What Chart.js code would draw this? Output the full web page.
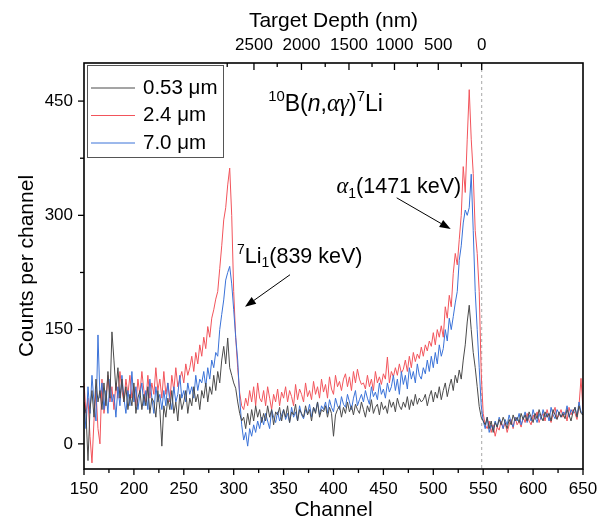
<!DOCTYPE html>
<html>
<head>
<meta charset="utf-8">
<title>10B(n,αγ)7Li spectrum</title>
<script src="https://cdn.jsdelivr.net/npm/chart.js@4.4.1/dist/chart.umd.min.js"></script>
<style>
  html, body { margin: 0; padding: 0; background: #fff; }
  canvas { display: block; }
</style>
</head>
<body>
<canvas id="chart" width="597" height="520"></canvas>
<script>
// spectra, one value every 2 channels from 150 to 650
const CHANNEL_START = 150;
const CHANNEL_STEP = 2;

const counts053 = [
  55, 40, -22, 45, 70, 35, 85, 55, 70, 45,
  80, 50, 95, 60, 147, 110, 70, 100, 60, 85,
  55, 75, 45, 65, 50, 80, 40, 60, 70, 45,
  65, 50, 75, 40, 60, 55, 35, 70, 45, -3,
  50, 35, 60, 45, 70, 40, 55, 30, 65, 45,
  55, 70, 40, 60, 50, 75, 55, 65, 45, 70,
  60, 80, 55, 75, 65, 90, 70, 95, 80, 110,
  128, 105, 139, 100, 90, 80, 73, 55, 40, 30,
  35, 20, 40, 25, 45, 30, 50, 35, 45, 28,
  40, 30, 50, 35, 45, 25, 42, 38, 48, 30,
  45, 35, 50, 28, 42, 38, 52, 30, 45, 40,
  35, 50, 38, 45, 30, 48, 40, 55, 35, 45,
  42, 50, 35, 48, 40, 10, 38, 45, 50, 35,
  48, 40, 55, 42, 50, 38, 52, 45, 40, 55,
  45, 35, 50, 42, 58, 40, 48, 52, 38, 55,
  45, 50, 40, 58, 48, 55, 42, 60, 50, 45,
  55, 48, 62, 45, 58, 50, 65, 52, 60, 55,
  58, 65, 50, 62, 70, 55, 68, 60, 75, 58,
  70, 80, 62, 75, 85, 70, 90, 80, 97, 85,
  110, 130, 160, 182, 150, 120, 100, 75, 49, 35,
  30, 25, 35, 20, 30, 15, 28, 22, 32, 25,
  35, 28, 20, 32, 25, 38, 30, 35, 28, 40,
  32, 38, 30, 42, 35, 28, 40, 33, 45, 36,
  30, 42, 35, 40, 30, 45, 38, 32, 42, 35,
  40, 33, 45, 38, 30, 42, 48, 35, 50, 40,
  38
];

const counts24 = [
  80, 40, 60, 10, -25, 30, 70, 20, 0, 85,
  40, 60, 90, 55, 75, 45, 80, 60, 95, 70,
  55, 85, 65, 90, 60, 75, 50, 85, 65, 95,
  70, 55, 90, 60, 80, 65, 100, 70, 85, 60,
  95, 65, 80, 55, 90, 70, 100, 75, 85, 95,
  80, 105, 90, 100, 115, 95, 120, 105, 130, 115,
  140, 125, 154, 140, 165, 176, 190, 200, 230, 260,
  294, 310, 340, 362, 300, 200, 140, 100, 67, 50,
  45, 60, 50, 70, 55, 75, 50, 80, 60, 55,
  70, 50, 75, 60, 45, 65, 55, 72, 50, 68,
  60, 75, 55, 70, 62, 50, 78, 58, 72, 65,
  55, 80, 62, 70, 58, 82, 65, 75, 60, 85,
  68, 78, 60, 88, 72, 65, 90, 75, 82, 70,
  85, 92, 75, 88, 70, 95, 80, 98, 85, 78,
  80, 72, 90, 75, 85, 70, 95, 80, 88, 78,
  92, 85, 114, 80, 95, 88, 100, 90, 105, 93,
  98, 110, 95, 115, 100, 120, 108, 118, 112, 127,
  115, 130, 122, 135, 128, 146, 130, 150, 140, 155,
  140, 180, 165, 195, 180, 224, 250, 235, 268, 300,
  364, 330, 400, 465, 400, 355, 280, 250, 200, 93,
  40, 25, 20, 30, 15, 25, 10, 22, 18, 30,
  20, 28, 15, 25, 32, 20, 35, 25, 30, 22,
  35, 28, 40, 30, 25, 38, 32, 42, 28, 36,
  40, 30, 45, 35, 28, 40, 48, 33, 38, 45,
  35, 42, 30, 48, 38, 45, 40, 32, 50, 86,
  45
];

const counts70 = [
  50, 20, 75, 40, 90, 55, 30, 143, 60, 80,
  45, 70, 40, 85, 55, 65, 35, 75, 50, 90,
  60, 40, 70, 50, 95, 55, 75, 45, 65, 80,
  50, 70, 45, 85, 60, 40, 75, 55, 65, 45,
  70, 50, 80, 60, 45, 75, 55, 65, 90, 60,
  70, 55, 80, 65, 75, 60, 90, 70, 85, 80,
  95, 75, 100, 85, 110, 100, 120, 115, 150, 170,
  189, 215, 225, 233, 210, 176, 140, 110, 60, 25,
  5, 15, -3, 20, 10, 25, 15, 30, 20, 35,
  25, 40, 30, 20, 45, 35, 28, 42, 30, 38,
  45, 32, 40, 28, 48, 35, 42, 30, 50, 38,
  33, 45, 40, 52, 35, 48, 42, 55, 38, 50,
  45, 55, 40, 58, 48, 42, 60, 50, 45, 62,
  52, 48, 65, 55, 45, 60, 70, 50, 58, 65,
  55, 70, 60, 52, 75, 62, 68, 58, 80, 65,
  72, 60, 80, 68, 75, 90, 70, 85, 65, 95,
  78, 90, 72, 100, 85, 95, 80, 105, 90, 85,
  100, 92, 110, 95, 115, 100, 120, 105, 130, 115,
  125, 150, 135, 165, 150, 167, 185, 200, 241, 260,
  290, 307, 300, 310, 354, 280, 200, 150, 100, 50,
  30, 20, 35, 15, 25, 18, 30, 22, 35, 28,
  20, 32, 25, 38, 28, 22, 35, 30, 40, 25,
  33, 42, 28, 38, 30, 45, 35, 28, 40, 32,
  45, 35, 40, 30, 48, 38, 33, 45, 40, 35,
  42, 38, 50, 35, 45, 40, 48, 36, 55, 42,
  40
];

const seriesLabels = ['0.53 \u03bcm', '2.4 \u03bcm', '7.0 \u03bcm'];
const seriesColors = ['#4a4a4a', '#f2545b', '#3a72d8'];

// tick values
const xTicks = [150, 200, 250, 300, 350, 400, 450, 500, 550, 600, 650];
const xMinorTicks = [175, 225, 275, 325, 375, 425, 475, 525, 575, 625];
const yTicks = [0, 150, 300, 450];
const yMinorTicks = [75, 225, 375];
// top axis: depth labels and the channel each one sits on
const depthLabels = ['2500', '2000', '1500', '1000', '500', '0'];
const depthChannels = [320.3, 367.9, 415.5, 461.1, 505.0, 548.5];
const depthMinorChannels = [293.5, 343.6, 391.7, 438.6, 484.0, 528.0];

const channels = counts053.map((_, i) => CHANNEL_START + i * CHANNEL_STEP);
const toPoints = vals => vals.map((v, i) => ({ x: channels[i], y: v }));

const FONT = '"Liberation Sans", Arial, sans-serif';
const SERIF = '"Liberation Serif", "Times New Roman", serif';

// rich text: [text, style] where style is '', 'sup', 'sub', 'i' (italic), 'it' (italic serif)
function drawRich(ctx, x, y, parts, size) {
  let cx = x;
  for (const [t, st] of parts) {
    let fs = size, dy = 0, fam = FONT, it = '';
    if (st === 'sup') { fs = size * 0.65; dy = -size * 0.42; }
    if (st === 'sub') { fs = size * 0.65; dy = size * 0.22; }
    if (st === 'it') { it = 'italic '; fam = SERIF; fs = size * 1.05; }
    if (st === 'i') { it = 'italic '; }
    ctx.font = it + fs + 'px ' + fam;
    ctx.fillText(t, cx, y + dy);
    cx += ctx.measureText(t).width;
  }
}

function arrow(ctx, x1, y1, x2, y2) {
  const ang = Math.atan2(y2 - y1, x2 - x1);
  const hl = 11, hw = 4;
  ctx.beginPath();
  ctx.moveTo(x1, y1);
  ctx.lineTo(x2 - hl * Math.cos(ang), y2 - hl * Math.sin(ang));
  ctx.stroke();
  ctx.beginPath();
  ctx.moveTo(x2, y2);
  ctx.lineTo(x2 - hl * Math.cos(ang) + hw * Math.sin(ang), y2 - hl * Math.sin(ang) - hw * Math.cos(ang));
  ctx.lineTo(x2 - hl * Math.cos(ang) - hw * Math.sin(ang), y2 - hl * Math.sin(ang) + hw * Math.cos(ang));
  ctx.closePath();
  ctx.fill();
}

const zeroDepthLine = {
  id: 'zeroDepthLine',
  beforeDatasetsDraw(chart) {
    const { ctx, chartArea: a, scales } = chart;
    const px = scales.x.getPixelForValue(depthChannels[depthChannels.length - 1]);
    ctx.save();
    ctx.strokeStyle = '#a8a8a8';
    ctx.lineWidth = 1;
    ctx.setLineDash([3, 3]);
    ctx.beginPath();
    ctx.moveTo(px, a.top);
    ctx.lineTo(px, a.bottom);
    ctx.stroke();
    ctx.restore();
  }
};

const frameAndDecor = {
  id: 'frameAndDecor',
  afterDraw(chart) {
    const { ctx, chartArea: a, scales } = chart;
    const x = scales.x, y = scales.y;
    ctx.save();
    ctx.strokeStyle = '#000';
    ctx.fillStyle = '#000';

    // ticks
    ctx.lineWidth = 1.3;
    const tick = (x1, y1, x2, y2) => { ctx.beginPath(); ctx.moveTo(x1, y1); ctx.lineTo(x2, y2); ctx.stroke(); };
    xTicks.forEach(v => { const p = x.getPixelForValue(v); tick(p, a.bottom, p, a.bottom + 6); });
    xMinorTicks.forEach(v => { const p = x.getPixelForValue(v); tick(p, a.bottom, p, a.bottom + 4); });
    yTicks.forEach(v => { const p = y.getPixelForValue(v); tick(a.left, p, a.left - 6, p); });
    yMinorTicks.forEach(v => { const p = y.getPixelForValue(v); tick(a.left, p, a.left - 4, p); });
    depthChannels.forEach(v => { const p = x.getPixelForValue(v); tick(p, a.top, p, a.top + 7); });
    depthMinorChannels.forEach(v => { const p = x.getPixelForValue(v); tick(p, a.top, p, a.top + 4); });

    // frame
    ctx.lineWidth = 1.6;
    ctx.strokeRect(a.left, a.top, a.right - a.left, a.bottom - a.top);

    // legend box
    const lx = a.left + 3, ly = a.top + 2, lw = 136, lh = 92;
    ctx.fillStyle = '#fff';
    ctx.fillRect(lx, ly, lw, lh);
    ctx.lineWidth = 1;
    ctx.strokeStyle = '#555';
    ctx.strokeRect(lx + 0.5, ly + 0.5, lw, lh);
    ctx.textBaseline = 'middle';
    ctx.font = '20.5px ' + FONT;
    seriesLabels.forEach((lab, i) => {
      const ry = ly + 23 + i * 27.5;
      ctx.strokeStyle = seriesColors[i];
      ctx.lineWidth = 1;
      tick(lx + 4, ry, lx + 48, ry);
      ctx.fillStyle = '#000';
      ctx.fillText(lab, lx + 56, ry);
    });

    // annotations (anchored in data coordinates)
    ctx.textBaseline = 'alphabetic';
    ctx.fillStyle = '#000';
    drawRich(ctx, x.getPixelForValue(334.5), y.getPixelForValue(437),
      [['10', 'sup'], ['B(', ''], ['n', 'i'], [',', ''], ['\u03b1\u03b3', 'it'], [')', ''], ['7', 'sup'], ['Li', '']], 23);
    drawRich(ctx, x.getPixelForValue(403), y.getPixelForValue(329),
      [['\u03b1', 'it'], ['1', 'sub'], ['(1471 keV)', '']], 21.5);
    drawRich(ctx, x.getPixelForValue(303.3), y.getPixelForValue(238),
      [['7', 'sup'], ['Li', ''], ['1', 'sub'], ['(839 keV)', '']], 21.5);

    ctx.strokeStyle = '#000';
    ctx.lineWidth = 1;
    arrow(ctx, x.getPixelForValue(463.3), y.getPixelForValue(323), x.getPixelForValue(517.4), y.getPixelForValue(282));
    arrow(ctx, x.getPixelForValue(356.4), y.getPixelForValue(222), x.getPixelForValue(311.3), y.getPixelForValue(180));
    ctx.restore();
  }
};

const tickFont = { family: FONT, size: 17 };
const titleFont = { family: FONT, size: 21 };
const noSidePadding = s => { s.paddingLeft = 0; s.paddingRight = 0; };

new Chart(document.getElementById('chart'), {
  type: 'line',
  data: {
    datasets: [
      { label: seriesLabels[0], data: toPoints(counts053), borderColor: seriesColors[0], order: 0 },
      { label: seriesLabels[1], data: toPoints(counts24), borderColor: seriesColors[1], order: 2 },
      { label: seriesLabels[2], data: toPoints(counts70), borderColor: seriesColors[2], order: 1 }
    ].map(d => Object.assign(d, { borderWidth: 1, pointRadius: 0, tension: 0, fill: false, xAxisID: 'x', yAxisID: 'y' }))
  },
  options: {
    responsive: false,
    animation: false,
    layout: { padding: { left: 0, right: 14, top: 0, bottom: 0 } },
    plugins: { legend: { display: false }, tooltip: { enabled: false } },
    scales: {
      x: {
        type: 'linear', position: 'bottom', min: 150, max: 650,
        afterBuildTicks: s => { s.ticks = xTicks.map(v => ({ value: v })); },
        afterFit: s => { s.height = 51; noSidePadding(s); },
        grid: { display: false, drawTicks: false },
        border: { display: false },
        ticks: { font: tickFont, color: '#000', padding: 10, maxRotation: 0, autoSkip: false },
        title: { display: true, text: 'Channel', font: titleFont, color: '#000', padding: { top: 0, bottom: -3 } }
      },
      xTop: {
        type: 'linear', position: 'top', min: 150, max: 650,
        afterBuildTicks: s => { s.ticks = depthChannels.map(v => ({ value: v })); },
        afterFit: s => { s.height = 63; noSidePadding(s); },
        grid: { display: false, drawTicks: false },
        border: { display: false },
        ticks: {
          font: tickFont, color: '#000', padding: 7, maxRotation: 0, autoSkip: false,
          callback: (v, i) => depthLabels[i]
        },
        title: { display: true, text: 'Target Depth (nm)', font: titleFont, color: '#000', padding: { top: 9, bottom: 0 } }
      },
      y: {
        type: 'linear', position: 'left', min: -33, max: 500,
        afterBuildTicks: s => { s.ticks = yTicks.map(v => ({ value: v })); },
        afterFit: s => { s.width = 84; },
        grid: { display: false, drawTicks: false },
        border: { display: false },
        ticks: { font: tickFont, color: '#000', padding: 11 },
        title: { display: true, text: 'Counts per channel', font: titleFont, color: '#000', padding: { top: 15, bottom: 0 } }
      }
    }
  },
  plugins: [zeroDepthLine, frameAndDecor]
});
</script>
</body>
</html>
